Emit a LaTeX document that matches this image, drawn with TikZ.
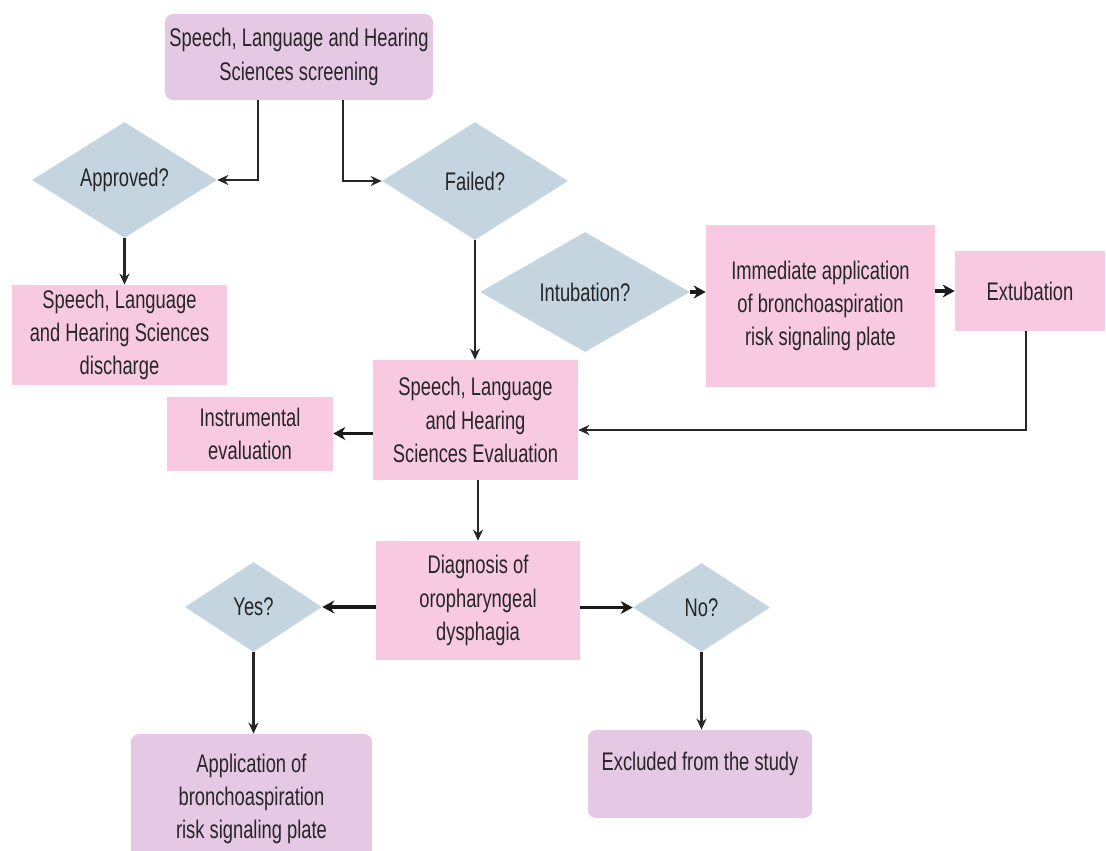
\documentclass[tikz,border=0pt]{standalone}
\usepackage{fontspec}
\setmainfont{Liberation Sans}[FakeStretch=0.72]
\usepackage{tikz}
\usetikzlibrary{shapes.geometric,arrows.meta,positioning,calc}

\definecolor{lavender}{HTML}{E5C8E3}
\definecolor{pinkbox}{HTML}{F8CAE1}
\definecolor{decblue}{HTML}{C4D5DF}

\begin{document}
\begin{tikzpicture}[
    x=0.02cm, y=-0.02cm,
    every node/.style={font=\fontsize{14.5}{19}\selectfont, align=center, text=black!85},
    endbox/.style={rectangle, rounded corners=0.16cm, fill=lavender, inner sep=2pt},
    stepbox/.style={rectangle, fill=pinkbox, inner sep=2pt},
    decision/.style={diamond, fill=decblue, inner sep=0pt, aspect=1.6},
    arrow/.style={-{Stealth[length=0.22cm,width=0.2cm]}, line width=1.3pt, black!85},
    thickarrow/.style={-{Stealth[length=0.24cm,width=0.26cm]}, line width=2pt, black!90}
]
    \useasboundingbox (0,0) rectangle (1106,851);

    \node[endbox, minimum width=5.36cm, minimum height=1.72cm] (screening) at (299,57)
        {Speech, Language and Hearing\\Sciences screening};
    \node[decision, minimum width=3.7cm, minimum height=2.32cm] (approved) at (124.5,180) {Approved?};
    \node[decision, minimum width=3.72cm, minimum height=2.36cm] (failed) at (475,181) {Failed?};
    \node[stepbox, minimum width=4.3cm, minimum height=2cm] (discharge) at (119.5,335)
        {Speech, Language\\and Hearing Sciences\\discharge};
    \node[decision, minimum width=4.2cm, minimum height=2.4cm] (intubation) at (585,292) {Intubation?};
    \node[stepbox, minimum width=4.58cm, minimum height=3.24cm] (immediate) at (820.5,306)
        {Immediate application\\of bronchoaspiration\\risk signaling plate};
    \node[stepbox, minimum width=3cm, minimum height=1.6cm] (extubation) at (1030,291) {Extubation};
    \node[stepbox, minimum width=4.1cm, minimum height=2.4cm] (evaluation) at (475.5,420)
        {Speech, Language\\and Hearing\\Sciences Evaluation};
    \node[stepbox, minimum width=3.32cm, minimum height=1.48cm] (instrumental) at (250,434)
        {Instrumental\\evaluation};
    \node[stepbox, minimum width=4.08cm, minimum height=2.38cm] (diagnosis) at (478,600.5)
        {Diagnosis of\\oropharyngeal\\dysphagia};
    \node[decision, minimum width=2.74cm, minimum height=1.8cm] (yes) at (253.5,607) {Yes?};
    \node[decision, minimum width=2.74cm, minimum height=1.78cm] (no) at (701.5,607.5) {No?};
    \node[endbox, minimum width=4.82cm, minimum height=2.6cm] (application) at (251.5,799)
        {Application of\\bronchoaspiration\\risk signaling plate};
    \node[endbox, minimum width=4.48cm, minimum height=1.76cm] (excluded) at (700,774)
        {Excluded from the study\\[-4pt]};

    \draw[arrow] ([xshift=-0.82cm]screening.south) |- (approved.east);
    \draw[arrow] ([xshift=0.88cm]screening.south) |- (failed.west);
    \draw[arrow] (approved.south) -- (approved.south |- discharge.north);
    \draw[arrow] (failed.south) -- (failed.south |- evaluation.north);
    \draw[thickarrow] (intubation.east) -- (intubation.east -| immediate.west);
    \draw[thickarrow] (extubation.west -| immediate.east) -- (extubation.west);
    \draw[arrow] ([xshift=-0.08cm]extubation.south) |- ([yshift=-0.2cm]evaluation.east);
    \draw[thickarrow] ([yshift=-0.27cm]evaluation.west) -- ([yshift=-0.27cm]evaluation.west -| instrumental.east);
    \draw[arrow] ([xshift=0.05cm]evaluation.south) -- ([xshift=0.05cm]evaluation.south |- diagnosis.north);
    \draw[thickarrow] (yes.east -| diagnosis.west) -- (yes.east);
    \draw[thickarrow] (no.west -| diagnosis.east) -- (no.west);
    \draw[arrow] (yes.south) -- (yes.south |- application.north);
    \draw[arrow] (no.south) -- (no.south |- excluded.north);
\end{tikzpicture}
\end{document}
